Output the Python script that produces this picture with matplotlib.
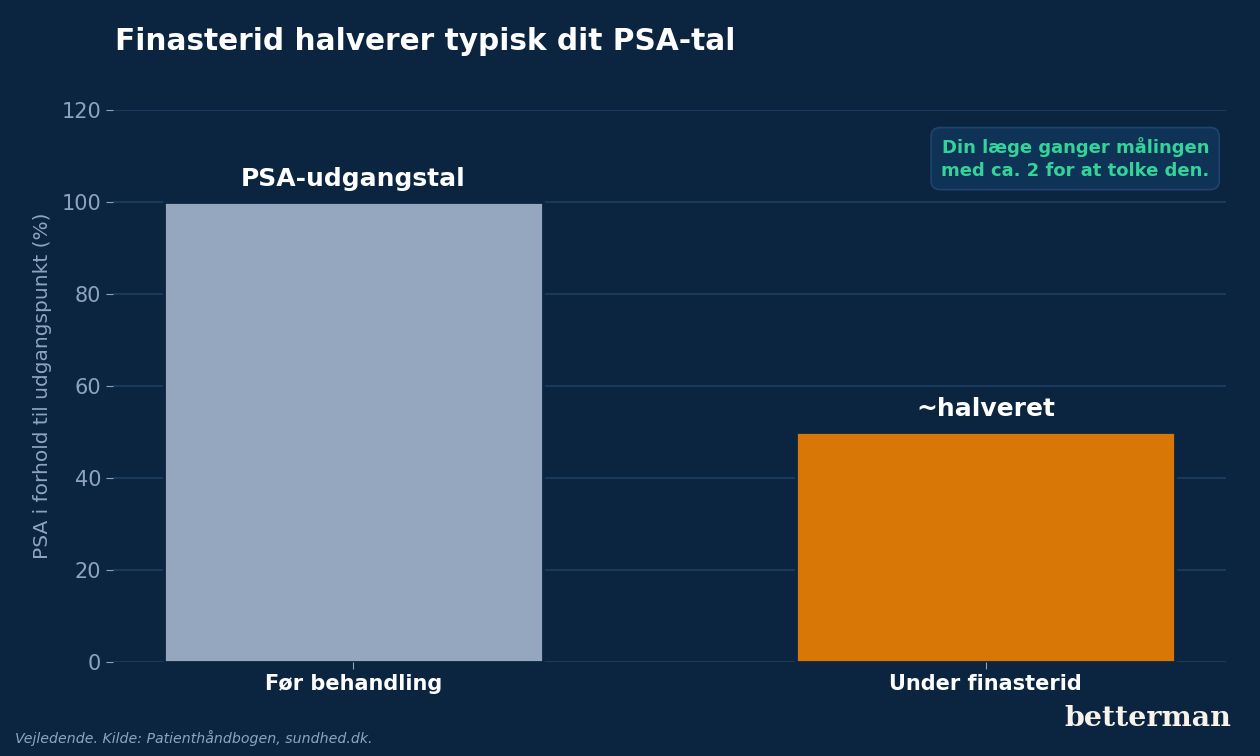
import matplotlib
matplotlib.use("Agg")
from matplotlib import pyplot as plt

# data
kategorier = ["Før behandling", "Under finasterid"]
psa_vaerdier = [100, 50]
bar_labels = ["PSA-udgangstal", "~halveret"]
y_ticks = [0, 20, 40, 60, 80, 100, 120]

BG = "#0b2540"
GRID = "#1d3f63"
MUTED = "#8fa3bf"
bar_farver = ["#95a6bf", "#d97706"]

fig = plt.figure(figsize=(12.6, 7.56), dpi=100, facecolor=BG)
ax = fig.add_axes([0.0897, 0.1243, 0.8833, 0.7302], facecolor=BG)

x = list(range(len(kategorier)))
bars = ax.bar(x, psa_vaerdier, width=0.6, color=bar_farver,
              edgecolor=BG, linewidth=2, zorder=3)

for b, lab in zip(bars, bar_labels):
    ax.text(b.get_x() + b.get_width() / 2, b.get_height() + 2.5, lab,
            ha="center", va="bottom", color="white", fontsize=18,
            fontweight="bold", zorder=4)

ax.set_ylim(0, 120)
ax.set_yticks(y_ticks)
ax.set_xticks(x)
ax.set_xticklabels(kategorier, fontsize=15, fontweight="bold")
ax.tick_params(axis="y", colors=MUTED, labelsize=15, length=5)
ax.tick_params(axis="x", colors=MUTED, length=5)
for t in ax.get_xticklabels():
    t.set_color("white")
ax.grid(axis="y", color=GRID, linewidth=1.2, zorder=0)
for s in ax.spines.values():
    s.set_visible(False)

ax.set_ylabel("PSA i forhold til udgangspunkt (%)", color=MUTED, fontsize=14.5,
              labelpad=7)

# titel
fig.text(0.0913, 0.945, "Finasterid halverer typisk dit PSA-tal", color="white",
         fontsize=21.3, fontweight="bold", ha="left", va="center")

# info-boks
ax.text(0.985, 0.912, "Din læge ganger målingen\nmed ca. 2 for at tolke den.",
        transform=ax.transAxes, ha="right", va="center", color="#34d399",
        fontsize=13, fontweight="bold", linespacing=1.3,
        bbox=dict(boxstyle="round,pad=0.55,rounding_size=0.5",
                  facecolor="#0f3257", edgecolor="#1f456e", linewidth=1.2),
        zorder=5)

# kilde og logo
fig.text(0.012, 0.024, "Vejledende. Kilde: Patienthåndbogen, sundhed.dk.",
         color=MUTED, fontsize=10.2, style="italic", ha="left", va="center")
fig.text(0.977, 0.05, "betterman", color="#f7f2ea", fontsize=20.5,
         fontweight="heavy", family="DejaVu Serif", ha="right", va="center")

fig.savefig("out.png", dpi=100, facecolor=BG)
